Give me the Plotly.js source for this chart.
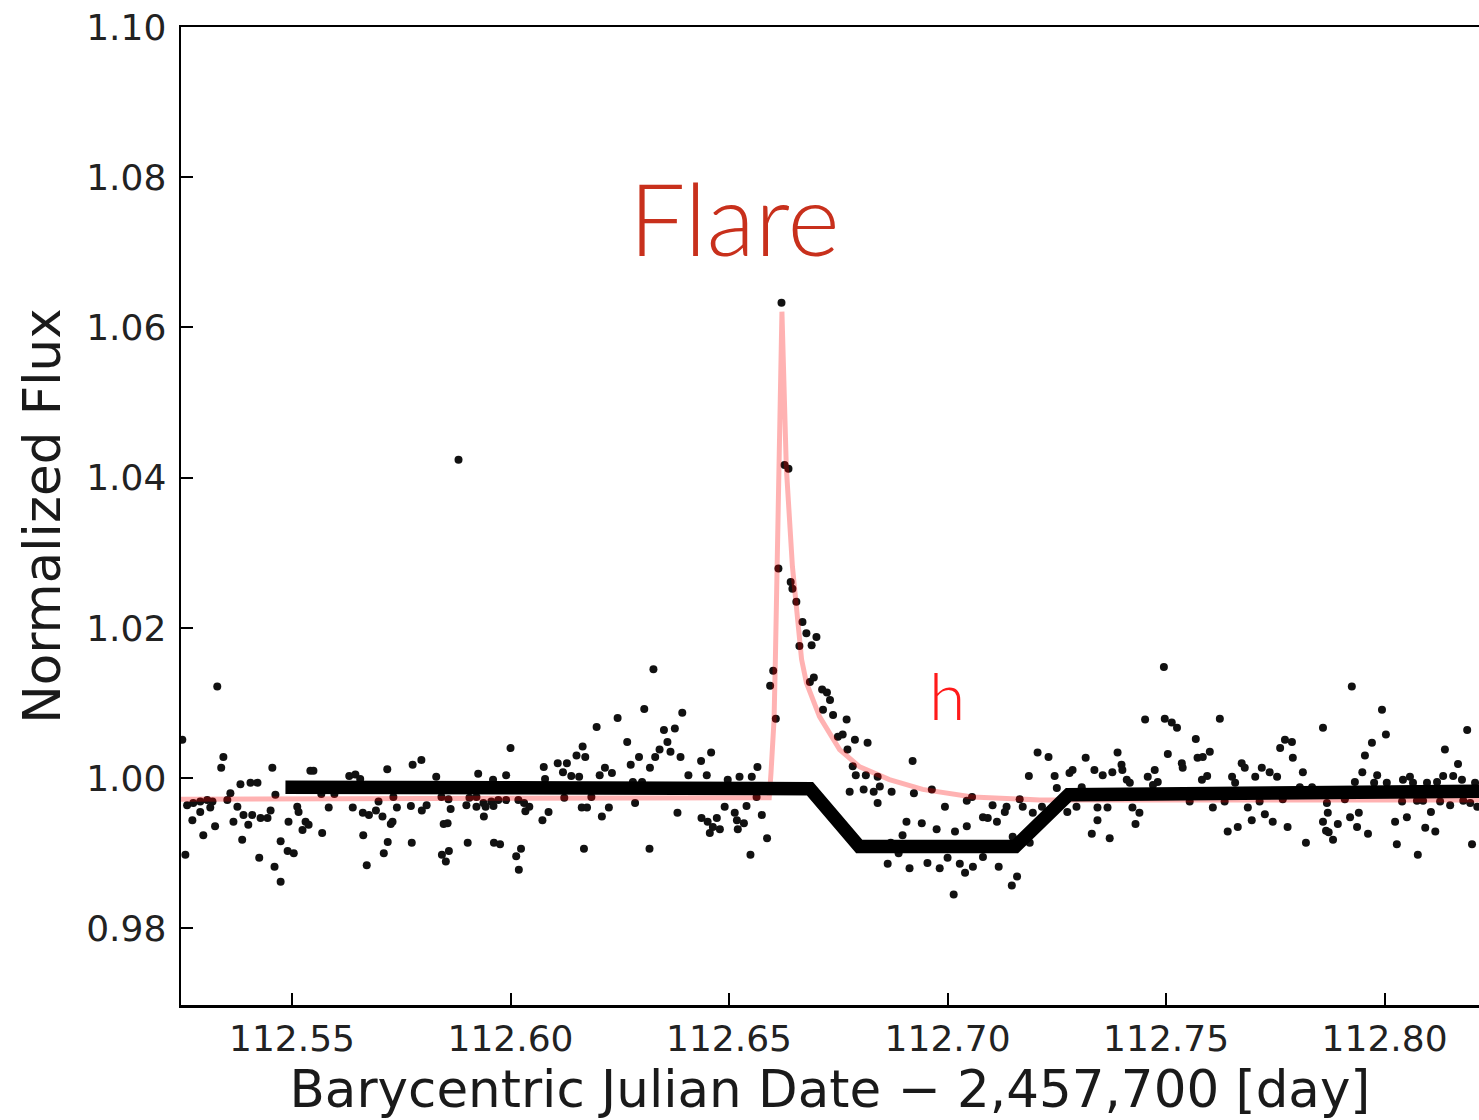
<!DOCTYPE html>
<html>
<head>
<meta charset="utf-8">
<script src="https://cdn.plot.ly/plotly-3.0.1.min.js"></script>
<style>html,body{margin:0;padding:0;background:#fff;overflow:hidden;}</style>
</head>
<body>
<div id="chart" style="width:1479px;height:1120px;"></div>
<script>
// Observed light curve (time in BJD - 2,457,700, normalized flux)
const obsTime = [
112.5329,112.5343,112.5338,112.5455,112.5542,112.5549,112.5718,112.5631,112.5645,112.5656,
112.5382,112.5405,112.5421,112.5359,112.5462,112.5567,112.5597,112.5260,112.5274,112.5290,
112.5306,112.5318,112.5352,112.5698,112.5732,112.5375,112.5290,112.5313,112.5512,112.5515,
112.5584,112.5639,112.5662,112.5676,112.5692,112.5389,112.5409,112.5428,112.5444,112.5451,
112.5272,112.5366,112.5400,112.5492,112.5531,112.5538,112.5524,112.5324,112.5730,112.5297,
112.5569,112.5663,112.5386,112.5474,112.5490,112.5504,112.5256,112.5710,112.5425,112.5460,
112.5671,112.5474,112.5249,112.5881,
112.6245,112.6197,112.6000,112.6165,112.6151,112.6171,112.5776,112.5796,112.6076,112.6108,
112.6129,112.6120,112.6216,112.6232,112.6204,112.5830,112.5926,112.5960,112.5990,112.6079,
112.6139,112.6157,112.5842,112.5858,112.5906,112.5922,112.5938,112.5956,112.5972,112.5990,
112.6018,112.6031,112.6043,112.6123,112.6185,112.5740,112.5772,112.5797,112.5808,112.5863,
112.5899,112.5922,112.5943,112.5961,112.6034,112.6087,112.6073,112.6163,112.6175,112.6225,
112.6209,112.5707,112.5939,112.5726,112.5847,112.5856,112.5719,112.5774,112.5902,112.5962,
112.5976,112.6168,112.6024,112.6013,112.5843,112.5859,112.5852,112.6019,
112.6661,112.6327,112.6601,112.6594,112.6685,112.6694,112.6713,112.6724,112.6731,112.6715,
112.6738,112.6749,112.6607,112.6306,112.6393,112.6351,112.6376,112.6267,112.6359,112.6341,
112.6366,112.6331,112.6389,112.6294,112.6459,112.6436,112.6275,112.6319,112.6565,112.6407,
112.6449,112.6524,112.6552,112.6280,112.6301,112.6497,112.6563,112.6285,112.6382,112.6490,
112.6540,112.6575,112.6437,112.6451,112.6472,112.6463,112.6456,112.6479,112.6513,112.6518,
112.6534,112.6520,112.6587,112.6318,112.6549,
112.6620,112.6627,112.6636,112.6613,112.6641,112.6645,112.6654,112.6668,112.6677,112.6700,
112.6689,
112.6769,112.6760,112.6788,112.6817,112.6771,112.6920,112.7206,112.7231,112.6783,112.6790,
112.6813,112.6840,112.7186,112.7245,112.7250,112.6776,112.6808,112.6831,112.6845,112.6872,
112.6923,112.6964,112.7056,112.7044,112.6840,112.6994,112.7103,112.7135,112.7131,112.7165,
112.7172,112.7195,112.7216,112.6906,112.6941,112.6975,112.7017,112.7044,112.7081,112.7113,
112.7092,112.6897,112.7149,112.7188,112.6870,112.6888,112.6863,112.6913,112.6954,112.6982,
112.7000,112.7028,112.7040,112.7058,112.7081,112.7117,112.7159,112.7147,112.7014,
112.7495,112.7452,112.7497,112.7513,112.7525,112.7623,112.7568,112.7761,112.7389,112.7504,
112.7600,112.7584,112.7572,112.7316,112.7536,112.7538,112.7398,112.7400,112.7377,112.7355,
112.7336,112.7286,112.7279,112.7673,112.7680,112.7719,112.7737,112.7474,112.7458,112.7410,
112.7417,112.7481,112.7470,112.7594,112.7582,112.7651,112.7658,112.7704,112.7754,112.7307,
112.7274,112.7295,112.7343,112.7366,112.7423,112.7439,112.7554,112.7634,112.7607,112.7687,
112.7696,112.7714,112.7726,112.7744,112.7343,112.7430,112.7330,112.7371,112.7641,112.7664,
112.7925,112.7994,112.7859,112.8189,112.8003,112.7772,112.7788,112.7971,112.8138,112.7955,
112.7790,112.8168,112.7813,112.7949,112.7983,112.7932,112.7806,112.7834,112.7976,112.8005,
112.8042,112.8058,112.8065,112.8097,112.8120,112.8134,112.8157,112.8177,112.8207,112.7767,
112.7868,112.7909,112.8040,112.8074,112.8088,112.8127,112.8150,112.8180,112.8196,112.8212,
112.7870,112.7859,112.7866,112.7778,112.7893,112.7872,112.7882,112.7921,112.7941,112.7937,
112.7962,112.8024,112.8051,112.8106,112.8093,112.8116,112.7820,112.8028,112.8076,112.8200
];
const obsFlux = [
1.0122,1.0028,1.0014,1.0014,1.0010,1.0010,1.0012,1.0003,1.0005,0.9999,
0.9992,0.9994,0.9994,0.9980,0.9978,0.9979,0.9979,0.9964,0.9967,0.9969,
0.9971,0.9969,0.9971,0.9969,0.9975,0.9962,0.9955,0.9961,0.9962,0.9955,
0.9961,0.9961,0.9954,0.9951,0.9957,0.9951,0.9951,0.9947,0.9947,0.9957,
0.9944,0.9942,0.9938,0.9942,0.9942,0.9938,0.9931,0.9936,0.9942,0.9924,
0.9927,0.9924,0.9918,0.9916,0.9903,0.9900,0.9898,0.9900,0.9894,0.9882,
0.9884,0.9862,1.0051,1.0424,
1.0080,1.0068,1.0040,1.0042,1.0030,1.0028,1.0018,1.0024,1.0015,1.0020,
1.0020,1.0008,1.0014,1.0007,1.0004,1.0002,1.0006,0.9998,1.0004,0.9999,
1.0003,1.0002,0.9975,0.9972,0.9974,0.9975,0.9967,0.9969,0.9971,0.9971,
0.9971,0.9967,0.9962,0.9974,0.9975,0.9961,0.9963,0.9957,0.9964,0.9959,
0.9964,0.9962,0.9962,0.9963,0.9956,0.9955,0.9944,0.9961,0.9961,0.9961,
0.9949,0.9949,0.9949,0.9939,0.9939,0.9940,0.9915,0.9914,0.9914,0.9914,
0.9912,0.9906,0.9906,0.9896,0.9898,0.9903,0.9889,0.9878,
1.0176,1.0145,1.0143,1.0123,1.0128,1.0134,1.0118,1.0114,1.0104,1.0091,
1.0084,1.0055,1.0079,1.0092,1.0087,1.0064,1.0066,1.0048,1.0048,1.0038,
1.0035,1.0028,1.0028,1.0028,1.0034,1.0023,1.0018,1.0014,1.0015,1.0004,
1.0004,1.0002,1.0002,0.9995,0.9995,0.9998,0.9975,0.9967,0.9954,0.9962,
0.9963,0.9951,0.9947,0.9942,0.9947,0.9935,0.9927,0.9932,0.9954,0.9944,
0.9940,0.9932,0.9920,0.9906,0.9898,
1.0633,1.0417,1.0412,1.0279,1.0261,1.0252,1.0235,1.0208,1.0193,1.0188,
1.0177,
1.0078,1.0058,1.0051,1.0047,1.0038,1.0023,1.0034,1.0028,1.0016,1.0004,
1.0004,1.0002,1.0003,1.0003,0.9987,0.9982,0.9985,0.9982,0.9989,0.9982,
0.9980,0.9985,0.9975,0.9970,0.9967,0.9962,0.9964,0.9962,0.9955,0.9972,
0.9962,0.9954,0.9962,0.9942,0.9940,0.9932,0.9929,0.9936,0.9948,0.9942,
0.9947,0.9924,0.9922,0.9914,0.9914,0.9900,0.9886,0.9880,0.9887,0.9880,
0.9894,0.9886,0.9874,0.9882,0.9895,0.9882,0.9869,0.9857,0.9845,
1.0148,1.0078,1.0079,1.0074,1.0067,1.0079,1.0052,1.0040,1.0034,1.0032,
1.0035,1.0028,1.0027,1.0027,1.0020,1.0014,1.0018,1.0011,1.0008,1.0004,
1.0011,1.0011,1.0007,1.0020,1.0014,1.0014,1.0008,1.0011,1.0002,0.9998,
0.9994,0.9995,0.9991,1.0003,0.9998,1.0002,0.9994,1.0002,1.0002,0.9988,
0.9955,0.9962,0.9961,0.9961,0.9961,0.9954,0.9969,0.9969,0.9961,0.9961,
0.9944,0.9969,0.9952,0.9942,0.9944,0.9939,0.9926,0.9920,0.9929,0.9935,
1.0122,1.0091,1.0067,1.0064,1.0058,1.0051,1.0048,1.0047,1.0038,1.0030,
1.0027,1.0019,1.0008,1.0008,1.0004,0.9995,0.9988,0.9988,0.9994,0.9994,
0.9998,1.0002,0.9994,0.9994,0.9995,1.0003,1.0003,0.9998,0.9994,0.9972,
0.9967,0.9972,0.9969,0.9970,0.9970,0.9969,0.9964,0.9970,0.9967,0.9962,
0.9954,0.9942,0.9930,0.9935,0.9939,0.9928,0.9918,0.9948,0.9954,0.9935,
0.9926,0.9942,0.9948,0.9955,0.9934,0.9929,0.9914,0.9912,0.9898,0.9912
];

// Flare model (pink curve)
const modelTime = [112.5200,112.6592,112.6596,112.6603,112.6606,112.6610,112.6621,112.6631,112.6645,112.6666,
                   112.6677,112.6707,112.6753,112.6799,112.6867,112.6943,112.7057,112.7211,112.8300];
const modelFlux = [0.9972,0.9974,1.0007,1.0078,1.0158,1.0282,1.0621,1.0414,1.0282,1.0158,
                   1.0127,1.0082,1.0038,1.0015,0.9998,0.9985,0.9975,0.9971,0.9971];

// Transit sketch (black thick line)
const transitTime = [112.5485,112.6685,112.6798,112.7155,112.7277,112.8300];
const transitFlux = [0.9988,0.9986,0.9909,0.9909,0.9978,0.9983];

// Axis ticks
const xTickVals = [112.55,112.60,112.65,112.70,112.75,112.80];
const xTickText = ["112.55","112.60","112.65","112.70","112.75","112.80"];
const yTickVals = [0.98,1.00,1.02,1.04,1.06,1.08,1.10];
const yTickText = ["0.98","1.00","1.02","1.04","1.06","1.08","1.10"];

// Labels
const xTitle = "Barycentric Julian Date \u2212 2,457,700 [day]";
const yTitle = "Normalized Flux";
const flareLabel = {text: "Flare", x: 112.6512, y: 1.0747};
const hLabel = {text: "h", x: 112.6998, y: 1.0112};

const traces = [
  {x: obsTime, y: obsFlux, type: 'scatter', mode: 'markers',
   marker: {size: 8, color: '#111'}, hoverinfo: 'skip', showlegend: false},
  {x: modelTime, y: modelFlux, type: 'scatter', mode: 'lines',
   line: {color: 'rgba(255,0,0,0.3)', width: 5}, showlegend: false},
  {x: transitTime, y: transitFlux, type: 'scatter', mode: 'lines',
   line: {color: '#000', width: 13.5}, showlegend: false}
];

const axisFont = {family: 'DejaVu Sans, sans-serif', size: 36, color: '#222'};
const titleFont = {family: 'DejaVu Sans, sans-serif', size: 51.5, color: '#1a1a1a'};

const layout = {
  width: 1479, height: 1120,
  margin: {l: 181, r: 0, t: 27, b: 115},
  paper_bgcolor: '#fff', plot_bgcolor: '#fff',
  showlegend: false,
  xaxis: {
    range: [112.5246, 112.8216],
    tickvals: xTickVals, ticktext: xTickText,
    ticks: 'inside', ticklen: 12, tickwidth: 2, tickcolor: '#000',
    showline: true, linecolor: '#000', linewidth: 2.5, mirror: true,
    showgrid: false, zeroline: false,
    tickfont: axisFont, ticklabelstandoff: 0,
    title: {text: xTitle, font: titleFont, standoff: 6},
    automargin: false
  },
  yaxis: {
    range: [0.9698, 1.10],
    tickvals: yTickVals, ticktext: yTickText,
    ticks: 'inside', ticklen: 12, tickwidth: 2, tickcolor: '#000',
    showline: true, linecolor: '#000', linewidth: 2.5, mirror: false,
    showgrid: false, zeroline: false,
    tickfont: axisFont, ticklabelstandoff: 5,
    title: {text: yTitle, font: titleFont, standoff: 9},
    automargin: false
  },
  annotations: [
    {x: flareLabel.x, y: flareLabel.y, xref: 'x', yref: 'y', text: flareLabel.text,
     showarrow: false, xanchor: 'center', yanchor: 'middle',
     font: {family: 'Lato, Roboto, sans-serif', size: 100, color: '#c8301c', weight: 300}},
    {x: hLabel.x, y: hLabel.y, xref: 'x', yref: 'y', text: hLabel.text,
     showarrow: false, xanchor: 'center', yanchor: 'middle',
     font: {family: 'Lato, Roboto, sans-serif', size: 66, color: '#ff1a1a', weight: 300}}
  ]
};

Plotly.newPlot('chart', traces, layout, {staticPlot: true, displayModeBar: false});
</script>
</body>
</html>
